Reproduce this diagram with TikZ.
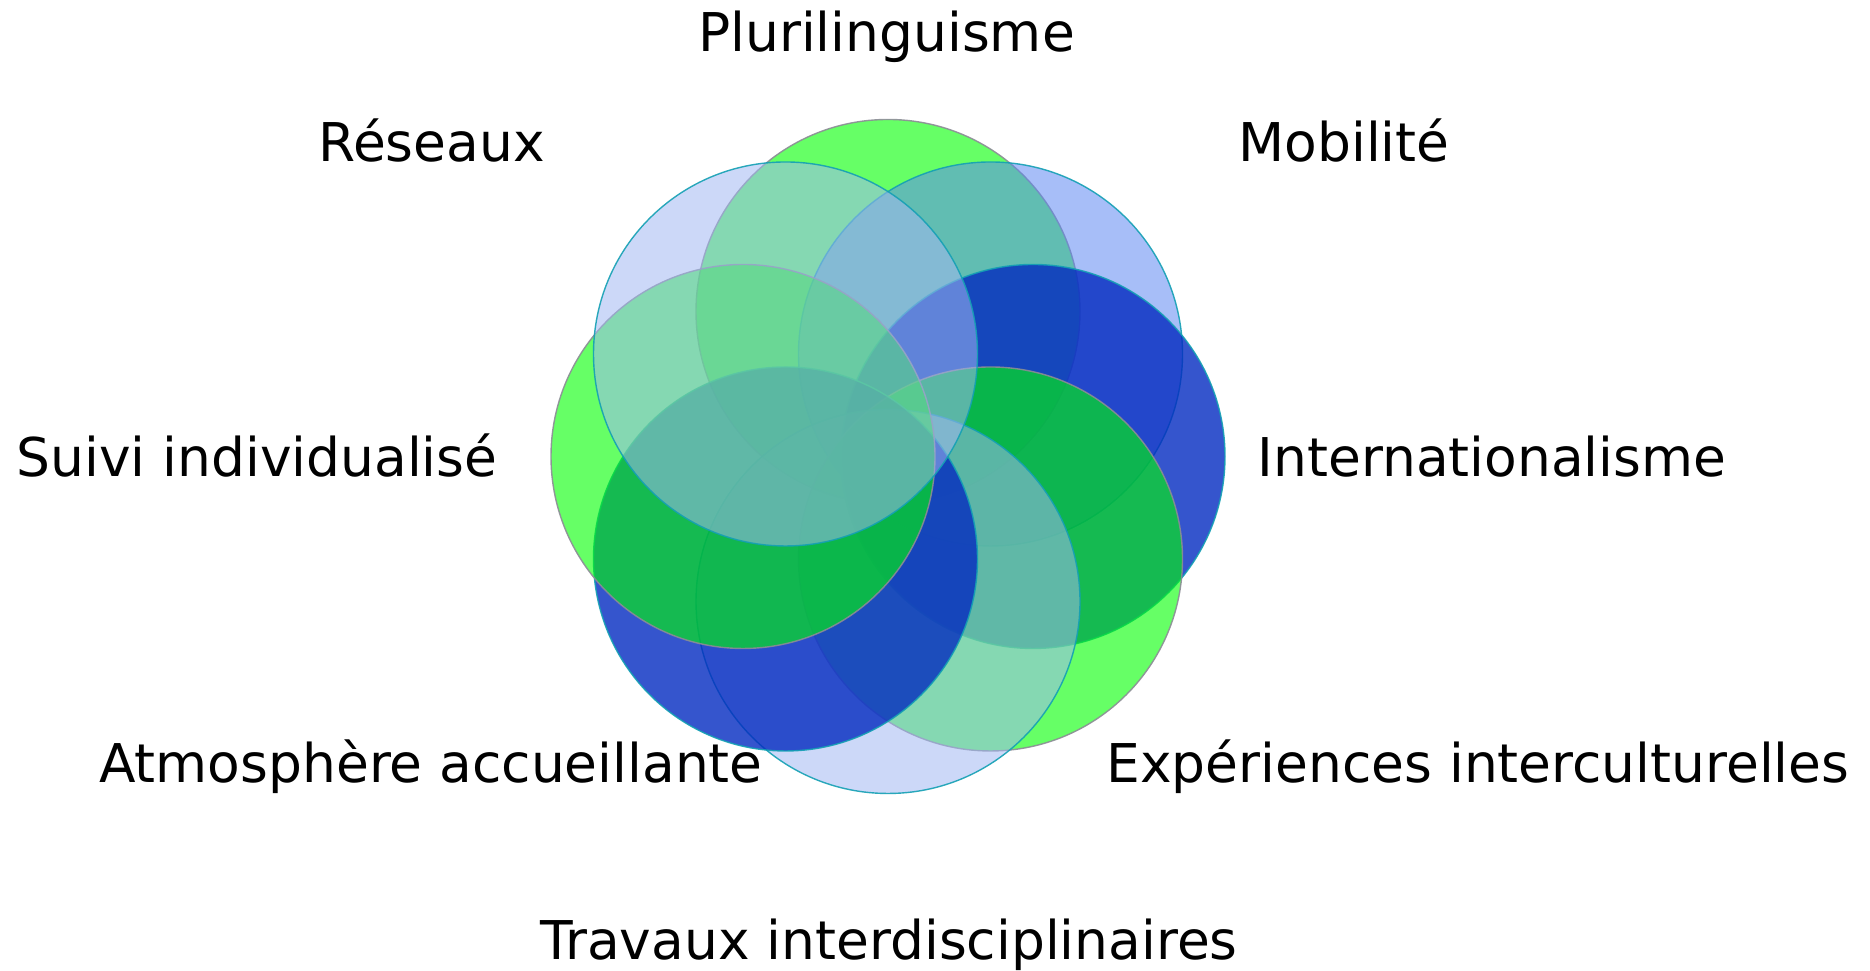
\documentclass[tikz,border=0pt]{standalone}
\usepackage{fontspec}
\setmainfont{DejaVu Sans}
\usepackage{tikz}
\usepackage{xcolor}

\definecolor{vert}{RGB}{0,255,0}
\definecolor{bleuclair}{RGB}{93,134,242}
\definecolor{bleufonce}{RGB}{3,42,192}
\definecolor{lavande}{RGB}{161,183,242}
\definecolor{bordgris}{RGB}{140,140,150}
\definecolor{bordbleu}{RGB}{20,160,180}

\tikzset{
    cercle/.style={circle, minimum size=3.84cm, inner sep=0pt, line width=0.4pt, draw opacity=0.9},
    cvert/.style={cercle, fill=vert, fill opacity=0.6, draw=bordgris},
    cclair/.style={cercle, fill=bleuclair, fill opacity=0.54, draw=bordbleu},
    cfonce/.style={cercle, fill=bleufonce, fill opacity=0.8, draw=bordbleu},
    clavande/.style={cercle, fill=lavande, fill opacity=0.54, draw=bordbleu},
    etiquette/.style={anchor=base, inner sep=0pt, font=\fontsize{15.2}{18}\selectfont}
}

\begin{document}
\begin{tikzpicture}
        \useasboundingbox (0,0) rectangle (18.70,9.71);

        % les huit cercles, dans le sens des aiguilles
        \node[cvert] (c1) at (8.880,6.595) {};
        \node[cclair] (c2) at (9.905,6.170) {};
        \node[cfonce] (c3) at (10.330,5.145) {};
        \node[cvert] (c4) at (9.905,4.120) {};
        \node[clavande] (c5) at (8.880,3.695) {};
        \node[cfonce] (c6) at (7.855,4.120) {};
        \node[cvert] (c7) at (7.430,5.145) {};
        \node[clavande] (c8) at (7.855,6.170) {};

        % etiquettes
        \node[etiquette] (plurilinguisme) at (8.865,9.19) {Plurilinguisme};
        \node[etiquette] (mobilite) at (13.44,8.09) {Mobilité};
        \node[etiquette] (internationalisme) at (14.92,4.94) {Internationalisme};
        \node[etiquette] (experiences) at (14.78,1.88) {Expériences interculturelles};
        \node[etiquette] (travaux) at (8.89,0.11) {Travaux interdisciplinaires};
        \node[etiquette] (atmosphere) at (4.31,1.88) {Atmosphère accueillante};
        \node[etiquette] (suivi) at (2.57,4.94) {Suivi individualisé};
        \node[etiquette] (reseaux) at (4.315,8.09) {Réseaux};
    \end{tikzpicture}
\end{document}
